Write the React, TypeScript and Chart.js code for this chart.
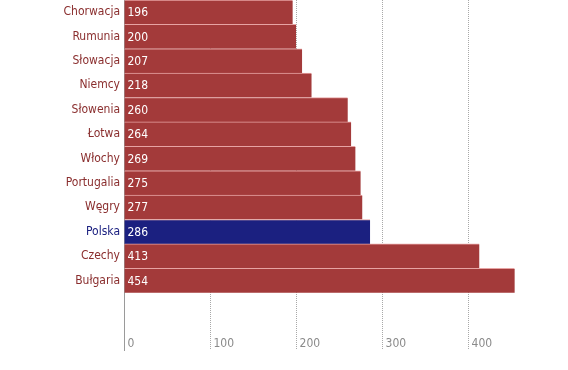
import React, { useEffect, useRef } from "react";
import { Chart, registerables } from "chart.js";

Chart.register(...registerables);

const countries = [
  "Chorwacja",
  "Rumunia",
  "Słowacja",
  "Niemcy",
  "Słowenia",
  "Łotwa",
  "Włochy",
  "Portugalia",
  "Węgry",
  "Polska",
  "Czechy",
  "Bułgaria",
];
const values = [196, 200, 207, 218, 260, 264, 269, 275, 277, 286, 413, 454];
const highlight = "Polska";
const xTicks = [0, 100, 200, 300, 400];

const RED = "#a33a3a";
const BLUE = "#1b2080";
const RED_TEXT = "#8a2e2e";
const FONT = "'DejaVu Sans Condensed', sans-serif";

const valueLabels = {
  id: "valueLabels",
  afterDatasetsDraw(chart: any) {
    const ctx = chart.ctx;
    const meta = chart.getDatasetMeta(0);
    ctx.save();
    ctx.font = `12px ${FONT}`;
    ctx.fillStyle = "#ffffff";
    ctx.textAlign = "left";
    ctx.textBaseline = "middle";
    meta.data.forEach((bar: any, i: number) => {
      ctx.fillText(String(values[i]), bar.base + 3, bar.y + 1);
    });
    ctx.restore();
  },
};

export default function App() {
  const ref = useRef<HTMLCanvasElement | null>(null);

  useEffect(() => {
    if (!ref.current) return;
    const chart = new Chart(ref.current, {
      type: "bar",
      data: {
        datasets: [
          {
            data: values.map((v, i) => ({ x: v, y: i })),
            backgroundColor: countries.map((c) => (c === highlight ? BLUE : RED)),
            borderColor: "#e7a3a3",
            borderWidth: { top: 1, right: 0, bottom: 0, left: 0 },
            borderSkipped: false,
            barPercentage: 1,
            categoryPercentage: 1,
          },
        ],
      },
      options: {
        indexAxis: "y",
        responsive: false,
        animation: false,
        layout: { padding: 0 },
        plugins: {
          legend: { display: false },
          tooltip: { enabled: false },
          title: { display: false },
        },
        scales: {
          x: {
            type: "linear",
            position: "bottom",
            min: 0,
            max: 516,
            afterBuildTicks: (scale: any) => {
              scale.ticks = xTicks.map((v) => ({ value: v }));
            },
            afterFit: (scale: any) => {
              scale.height = 20;
              scale.paddingLeft = 0;
              scale.paddingRight = 0;
              scale.paddingTop = 0;
              scale.paddingBottom = 0;
            },
            grid: {
              display: true,
              drawTicks: false,
              lineWidth: 1,
              color: (c: any) => (c.tick && c.tick.value === 0 ? "rgba(0,0,0,0)" : "#a8a8a8"),
            },
            border: { display: false, dash: [1, 1] },
            ticks: {
              align: "start",
              mirror: true,
              padding: -1,
              color: "#8a8a8a",
              font: { family: FONT, size: 12 },
              callback: (v: any) => " " + v,
            },
          },
          y: {
            type: "linear",
            reverse: true,
            offset: false,
            min: -0.5,
            max: 13.85,
            afterBuildTicks: (scale: any) => {
              scale.ticks = countries.map((_, i) => ({ value: i }));
            },
            afterFit: (scale: any) => {
              scale.width = 124;
              scale.paddingTop = 0;
              scale.paddingBottom = 0;
              scale.paddingLeft = 0;
              scale.paddingRight = 0;
            },
            grid: { display: false, drawTicks: false },
            border: { display: true, color: "#9a9a9a", width: 1 },
            ticks: {
              padding: 4,
              autoSkip: false,
              font: { family: FONT, size: 12 },
              color: (c: any) =>
                c.tick && countries[c.tick.value] === highlight ? BLUE : RED_TEXT,
              callback: (v: any) => countries[v] ?? "",
            },
          },
        },
      },
      plugins: [valueLabels],
    });
    return () => chart.destroy();
  }, []);

  return (
    <div style={{ position: "absolute", left: 0, top: 0, width: 568, height: 370, background: "#fff" }}>
      <canvas ref={ref} width={568} height={370} style={{ display: "block" }} />
    </div>
  );
}
